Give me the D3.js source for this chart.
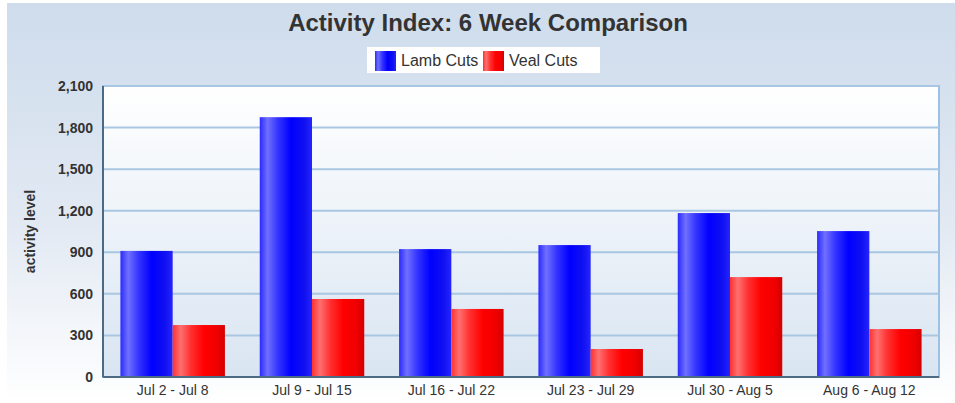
<!DOCTYPE html>
<html>
<head>
<meta charset="utf-8">
<script src="https://cdn.jsdelivr.net/npm/d3@7"></script>
<style>
  body { margin: 0; background: #fff; }
  svg { display: block; }
  svg text { font-family: Arial, "Liberation Sans", Helvetica, sans-serif; }
</style>
</head>
<body>
<svg id="chart" width="955" height="403"></svg>
<script>
// Chart data
const weeks = ['Jul 2 - Jul 8', 'Jul 9 - Jul 15', 'Jul 16 - Jul 22', 'Jul 23 - Jul 29', 'Jul 30 - Aug 5', 'Aug 6 - Aug 12'];
const seriesNames = ['Lamb Cuts', 'Veal Cuts'];
const lambValues = [910, 1875, 923, 952, 1183, 1053];
const vealValues = [375, 563, 491, 202, 721, 346];
const yTicks = [0, 300, 600, 900, 1200, 1500, 1800, 2100];

const W = 955, H = 403;
const margin = { top: 86, right: 16, bottom: 26, left: 103 };
const plotW = W - margin.left - margin.right;
const plotH = H - margin.top - margin.bottom;

const svg = d3.select('#chart');
const defs = svg.append('defs');

// Background gradients
const bgGrad = defs.append('linearGradient').attr('id', 'bgGrad')
  .attr('x1', 0).attr('y1', 0).attr('x2', 0).attr('y2', 1);
bgGrad.append('stop').attr('offset', '0%').attr('stop-color', '#cedcec');
bgGrad.append('stop').attr('offset', '55%').attr('stop-color', '#e2e9f3');
bgGrad.append('stop').attr('offset', '100%').attr('stop-color', '#ffffff');

const plotGrad = defs.append('linearGradient').attr('id', 'plotGrad')
  .attr('x1', 0).attr('y1', 0).attr('x2', 0).attr('y2', 1);
plotGrad.append('stop').attr('offset', '0%').attr('stop-color', '#ffffff');
plotGrad.append('stop').attr('offset', '100%').attr('stop-color', '#d9e5f2');

// Bar gradients (horizontal "cylinder" shading)
function barGradient(id, stops) {
  const g = defs.append('linearGradient').attr('id', id)
    .attr('x1', 0).attr('y1', 0).attr('x2', 1).attr('y2', 0);
  stops.forEach(s => g.append('stop').attr('offset', s[0]).attr('stop-color', s[1]));
}
barGradient('grad0', [['0%', '#2a2aff'], ['15%', '#7070ff'], ['35%', '#3434ff'], ['60%', '#0000ff'], ['85%', '#1010f0'], ['100%', '#2525ff']]);
barGradient('grad1', [['0%', '#ff3030'], ['15%', '#ff7070'], ['35%', '#ff3030'], ['60%', '#ff0000'], ['85%', '#f00000'], ['100%', '#d40000']]);

svg.append('rect').attr('x', 7).attr('y', 3).attr('width', W - 7).attr('height', H - 3)
  .attr('fill', 'url(#bgGrad)');

// Title
svg.append('text')
  .attr('x', 488).attr('y', 31)
  .attr('text-anchor', 'middle')
  .style('font-size', '24px').style('font-weight', 'bold').attr('fill', '#333')
  .text('Activity Index: 6 Week Comparison');

// Legend
const legend = svg.append('g');
legend.append('rect').attr('x', 367).attr('y', 47).attr('width', 233).attr('height', 26).attr('fill', '#fff');
const legendX = [375, 483];
seriesNames.forEach((name, i) => {
  legend.append('rect').attr('x', legendX[i]).attr('y', 51).attr('width', 21).attr('height', 20)
    .attr('fill', `url(#grad${i})`);
  legend.append('text').attr('x', legendX[i] + 26).attr('y', 66)
    .style('font-size', '16px').attr('fill', '#333').text(name);
});

// Scales
const x0 = d3.scaleBand().domain(weeks).range([0, plotW]).paddingInner(0.25).paddingOuter(0.125);
const x1 = d3.scaleBand().domain(seriesNames).range([0, x0.bandwidth()]).padding(0);
const y = d3.scaleLinear().domain([0, 2100]).range([plotH, 0]);

const plot = svg.append('g').attr('transform', `translate(${margin.left},${margin.top})`);

plot.append('rect').attr('width', plotW).attr('height', plotH).attr('fill', 'url(#plotGrad)')
  .attr('stroke', '#9dc1e2').attr('stroke-width', 2);

// Gridlines
plot.append('g').selectAll('line')
  .data(yTicks.filter(t => t > 0)).join('line')
  .attr('x1', 0).attr('x2', plotW)
  .attr('y1', d => y(d)).attr('y2', d => y(d))
  .attr('stroke', '#a9c7e2').attr('stroke-width', 2);

// Bars
const series = [lambValues, vealValues];
const groups = plot.append('g').selectAll('g')
  .data(weeks).join('g')
  .attr('transform', d => `translate(${x0(d)},0)`);
groups.selectAll('rect')
  .data((d, i) => series.map((vals, s) => ({ name: seriesNames[s], s, v: vals[i] })))
  .join('rect')
  .attr('x', d => x1(d.name))
  .attr('width', x1.bandwidth())
  .attr('y', d => y(d.v))
  .attr('height', d => plotH - y(d.v))
  .attr('fill', d => `url(#grad${d.s})`);

// Axes
const yAxis = plot.append('g')
  .call(d3.axisLeft(y).tickValues(yTicks).tickFormat(d3.format(',')).tickSize(0).tickPadding(10));
yAxis.select('.domain').remove();
yAxis.selectAll('text').style('font-size', '14px').style('font-weight', 'bold').attr('fill', '#333')
  .style('font-family', 'Arial, "Liberation Sans", sans-serif');

const xAxis = plot.append('g').attr('transform', `translate(0,${plotH})`)
  .call(d3.axisBottom(x0).tickSize(0).tickPadding(8));
xAxis.select('.domain').remove();
xAxis.selectAll('text').style('font-size', '14px').attr('fill', '#333')
  .style('font-family', 'Arial, "Liberation Sans", sans-serif');

plot.append('line').attr('x1', 0).attr('x2', 0).attr('y1', 0).attr('y2', plotH)
  .attr('stroke', '#4d6a84').attr('stroke-width', 2);
plot.append('line').attr('x1', 0).attr('x2', plotW).attr('y1', plotH).attr('y2', plotH)
  .attr('stroke', '#4d6a84').attr('stroke-width', 2);

// Y axis title
svg.append('text')
  .attr('transform', `translate(35,${margin.top + plotH / 2}) rotate(-90)`)
  .attr('text-anchor', 'middle')
  .style('font-size', '14px').style('font-weight', 'bold').attr('fill', '#333')
  .text('activity level');
</script>
</body>
</html>
